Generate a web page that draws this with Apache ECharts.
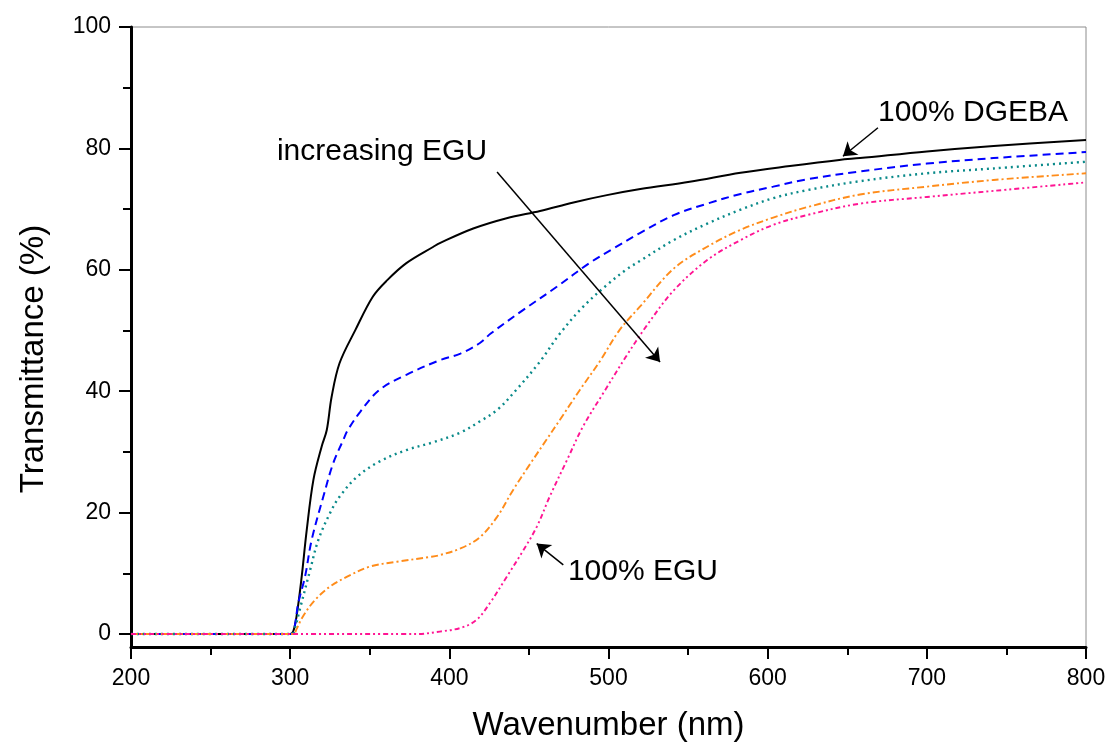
<!DOCTYPE html>
<html>
<head>
<meta charset="utf-8">
<script src="https://cdn.jsdelivr.net/npm/echarts@6/dist/echarts.min.js"></script>
<style>
html,body{margin:0;padding:0;background:#fff;}
#chart{width:1111px;height:751px;}
</style>
</head>
<body>
<div id="chart"></div>
<script>
// ---- data ----
const xTicks = [200, 300, 400, 500, 600, 700, 800];
const yTicks = [0, 20, 40, 60, 80, 100];
const yMinorTicks = [10, 30, 50, 70, 90];

const dgebaNm = [200,300,302,304,307,310.4,314.6,319.8,323,326,331,341,352,361,373,390,394,415,436,457,478,499,520,551,583,614,645,658,700,742,800];
const dgebaT  = [0,0,0.5,2.9,8.9,17.1,25.4,30.9,33.6,39,44.6,50.1,55.6,58.3,61.1,63.8,64.4,66.8,68.5,69.7,71.1,72.3,73.3,74.5,76.0,77.1,78.1,78.4,79.5,80.4,81.4];

const blueNm = [200,301,303,305,309.3,313.5,320.8,327,333.4,336,344,356,373,394,407,419,426,446.5,467.5,488,503,520,541,562,583,603.5,624.5,658,700,742,800];
const blueT  = [0,0,1.5,5.0,9.4,15.5,22.6,28.1,32.0,33.5,36.6,40.2,42.7,45.1,46.2,47.9,49.5,53.4,57.2,61.1,63.5,66.1,69.0,70.9,72.5,73.7,74.9,76.2,77.5,78.4,79.4];

const tealNm = [200,301,303,306,312.5,317.7,325,331,342,356,373,390,407,419,430,442,457,469.5,484,499,511,520,541,562,583,603.5,624.5,658,700,742,800];
const tealT  = [0,0,1,4.0,10.5,15.5,19.9,22.6,25.9,28.4,30.3,31.6,33.2,35.0,36.9,40.2,44.9,49.5,53.9,57.5,60.0,61.5,64.9,67.6,69.9,71.8,73.1,74.6,75.9,76.7,77.8];

const orangeNm = [200,302,304,308,315.6,325,335.5,350,367,388,394,407,419,430,440,451,461,469.5,482,495,507,520,541,562,583,603.5,624.5,658,700,742,800];
const orangeT  = [0,0,0.8,2.9,5.6,7.8,9.4,11.1,11.9,12.7,13.0,14.1,15.9,19.3,23.7,28.1,32.0,35.3,40.2,45.1,50.1,54.0,60.2,63.8,66.6,68.6,70.3,72.4,73.7,74.8,75.9];

const eguNm = [200,380,394,407,417,425.5,436,446.5,455,463,474,484,497,511,524,541,562,583,603.5,624.5,658,700,742,800];
const eguT  = [0,0,0.4,1.0,2.3,5.1,9.4,13.8,17.7,22.6,28.7,34.2,39.8,45.7,50.8,56.6,61.6,64.9,67.4,69.0,70.9,72.0,73.0,74.4];

// annotation anchors (data coordinates)
const notes = [
  {text: 'increasing EGU', at: [291.7, 79.4]},
  {text: '100% DGEBA', at: [669.3, 85.8]},
  {text: '100% EGU', at: [474.5, 10.2]}
];
const arrows = [
  [[430, 76.1], [532.4, 44.8]],
  [[669.3, 83.4], [647.3, 78.7]],
  [[471.6, 11.4], [454.9, 14.9]]
];

function zip(a, b) { return a.map((v, i) => [v, b[i]]); }

const FONT = '"Liberation Sans", Arial, sans-serif';
const chart = echarts.init(document.getElementById('chart'), null, {renderer: 'canvas'});

function lineSeries(name, nm, t, color, type, width) {
  return {
    name: name, type: 'line', data: zip(nm, t), showSymbol: false,
    smooth: 0.35, silent: true,
    lineStyle: {color: color, width: width, type: type},
    z: 3
  };
}

const option = {
  animation: false,
  backgroundColor: '#ffffff',
  grid: {left: 131, right: 25, top: 27, bottom: 104, show: true, borderColor: '#8c8c8c', borderWidth: 1},
  xAxis: {
    type: 'value', min: 200, max: 800, interval: 100,
    name: 'Wavenumber (nm)', nameLocation: 'middle', nameGap: 62,
    nameTextStyle: {fontSize: 33, color: '#000', fontFamily: FONT},
    axisLine: {onZero: false, lineStyle: {color: '#000', width: 3}},
    axisTick: {inside: false, length: 12, lineStyle: {color: '#000', width: 2}},
    minorTick: {show: true, splitNumber: 2, length: 8, lineStyle: {color: '#000', width: 2}},
    axisLabel: {fontSize: 23, color: '#000', margin: 20, fontFamily: FONT},
    splitLine: {show: false}, minorSplitLine: {show: false}
  },
  yAxis: [{
    type: 'value', min: -2.14, max: 100,
    name: 'Transmittance (%)', nameLocation: 'middle', nameGap: 81,
    nameTextStyle: {fontSize: 33, color: '#000', fontFamily: FONT, padding: [0, 44, 0, 0]},
    axisLine: {onZero: false, lineStyle: {color: '#000', width: 3}},
    axisTick: {inside: false, length: 12, customValues: yTicks, lineStyle: {color: '#000', width: 2}},
    axisLabel: {fontSize: 23, color: '#000', margin: 20, fontFamily: FONT, customValues: yTicks},
    splitLine: {show: false}
  }, {
    type: 'value', min: -2.14, max: 100, position: 'left', offset: 0,
    axisLine: {show: false},
    axisTick: {show: true, inside: false, length: 8, customValues: yMinorTicks, lineStyle: {color: '#000', width: 2}},
    axisLabel: {show: false, customValues: yMinorTicks},
    splitLine: {show: false}
  }],
  series: [
    lineSeries('100% DGEBA', dgebaNm, dgebaT, '#000000', 'solid', 2),
    lineSeries('blue', blueNm, blueT, '#0000ff', [8, 5], 2),
    lineSeries('teal', tealNm, tealT, '#0a8a8a', [2, 4], 2.4),
    lineSeries('orange', orangeNm, orangeT, '#ff8c1a', [7, 3, 2, 3], 1.9),
    lineSeries('100% EGU', eguNm, eguT, '#ff1493', [5, 3, 2, 3, 2, 3], 1.9),
    {
      type: 'line', data: [], silent: true,
      markLine: {
        silent: true, animation: false,
        symbol: ['none', 'arrow'], symbolSize: 13,
        label: {show: false},
        lineStyle: {color: '#000', width: 1.5, type: 'solid'},
        emphasis: {disabled: true},
        data: arrows.map(a => [{coord: a[0]}, {coord: a[1]}])
      }
    }
  ]
};
chart.setOption(option);

const graphics = notes.map(n => {
  const p = chart.convertToPixel({xAxisIndex: 0, yAxisIndex: 0}, n.at);
  return {
    type: 'text', x: p[0], y: p[1], silent: true,
    style: {text: n.text, fill: '#000', font: '30px ' + FONT, textAlign: 'left', textVerticalAlign: 'middle'}
  };
});
chart.setOption({graphic: graphics});
</script>
</body>
</html>
